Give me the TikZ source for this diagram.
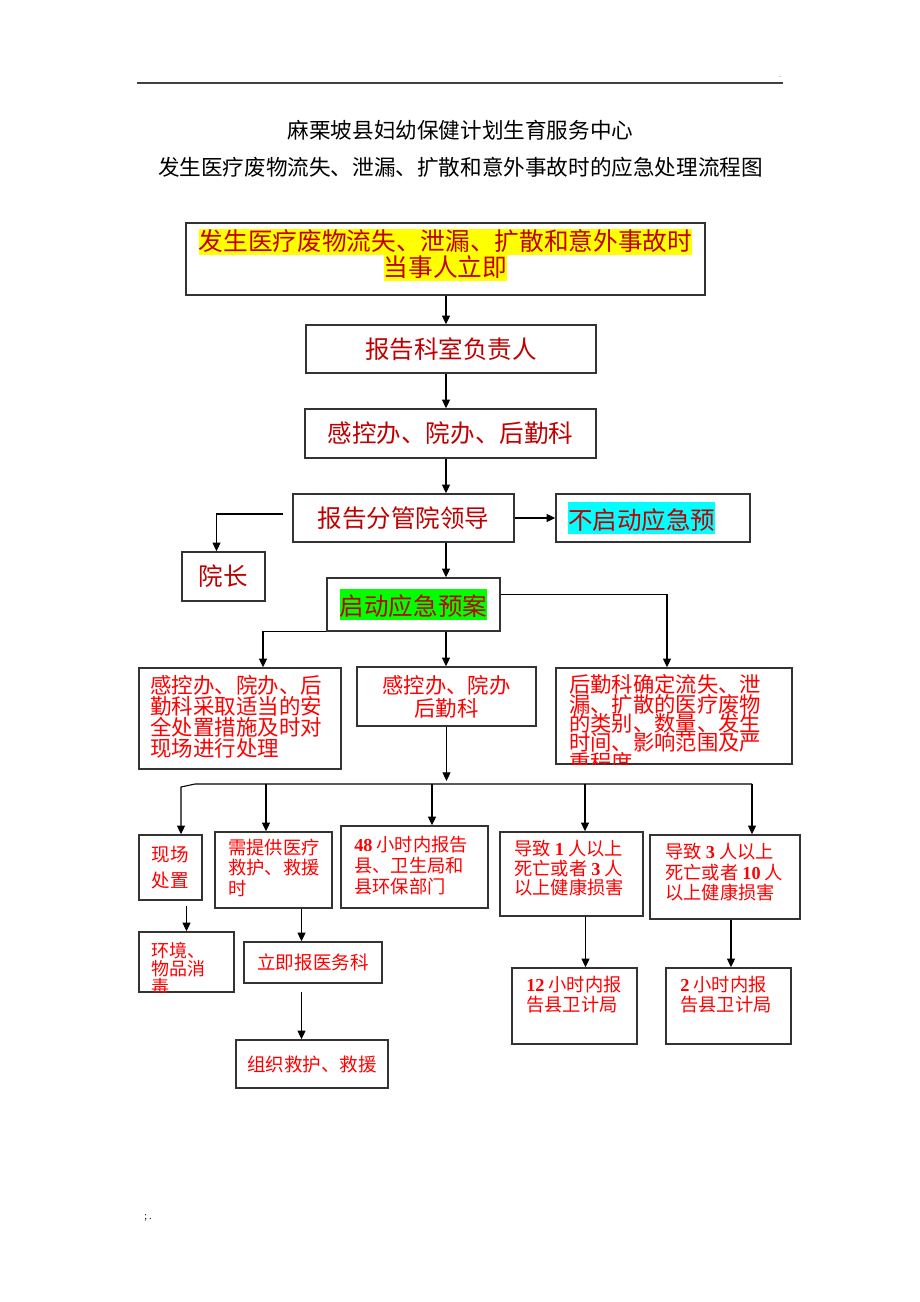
\documentclass[tikz,border=0pt]{standalone}
\usepackage{fontspec}
\setmainfont{Noto Sans CJK SC}
\newfontfamily\numfont{Liberation Serif}
\usepackage{xcolor}
\usetikzlibrary{fit, arrows.meta, positioning, calc}
\definecolor{darkred}{HTML}{C00000}
\definecolor{hlyellow}{RGB}{255,255,0}
\definecolor{hlcyan}{RGB}{0,255,255}
\definecolor{hlgreen}{RGB}{0,255,0}
\setlength{\fboxsep}{0pt}
\newcommand{\hlbg}[3][1.05em]{\colorbox{#2}{\rule[-0.2em]{0pt}{#1}#3}}
\newcommand{\bnum}[1]{{\numfont\bfseries #1}}
\newcommand{\cnsize}[2]{\fontsize{#1}{#2}\selectfont\lineskiplimit=-20pt}
\tikzset{
  box/.style={draw=black!80, line width=1.1pt, inner sep=0pt},
  boxsize/.style 2 args={minimum width=#1*0.75pt, minimum height=#2*0.75pt},
  lead/.style={box, text=darkred, font=\cnsize{18.4pt}{19.5pt}, align=center},
  act/.style={box, text=red, align=center},
  note/.style={anchor=north west, inner sep=0pt, align=left, text=red},
  arrow/.style={-{Triangle[length=6.5pt,width=6pt]}, line width=0.8pt, color=black},
  link/.style={line width=0.8pt, color=black}
}

\begin{document}
\begin{tikzpicture}[x=0.75pt, y=-0.75pt]
\useasboundingbox (0,0) rectangle (920,1302);
\fill[white] (0,0) rectangle (920,1302);

% En-tete
\draw[line width=1.2pt, black!75] (137,83) -- (783,83);
\node (dot_top) at (780,77) [font=\tiny] {.};
\node (org) at (460.5,130) [font=\cnsize{16.2pt}{20pt}] {麻栗坡县妇幼保健计划生育服务中心};
\node (title) at (460.5,167) [font=\cnsize{16.2pt}{20pt}] {发生医疗废物流失、泄漏、扩散和意外事故时的应急处理流程图};
\coordinate (axis) at (446,0);

% Chaine de signalement
\node (incident) [lead, boxsize={519}{72}, text depth=9.7pt, font=\cnsize{18.5pt}{19.5pt}] at (445.5,259) {\hlbg{hlyellow}{发生医疗废物流失、泄漏、扩散和意外事故时}\\\hlbg{hlyellow}{当事人立即}};
\node (report_dept) [lead, boxsize={290}{48}] at (451,349) {报告科室负责人};
\node (office) [lead, boxsize={291}{49}] at (450.5,433.5) {感控办、院办、后勤科};
\node (leader) [lead, boxsize={221}{48}] at (403.5,518) {报告分管院领导};
\node (no_plan) [box, fit={(556,494) (750,542)}] {};
\node (no_plan_txt) [note, anchor=west, text=darkred, font=\cnsize{18.4pt}{19.5pt}] at (568,518) {\hlbg[1.3em]{hlcyan}{不启动应急预}};
\node (dean) [lead, boxsize={83}{49}] at (223.5,576.5) {院长};
\node (plan) [lead, boxsize={173}{53}] at (413.5,604.5) {\hlbg[1.3em]{hlgreen}{启动应急预案}};

% Trois volets
\node (site_measures) [box, fit={(139,668) (341,769)}] {};
\node (site_measures_txt) [note, font=\cnsize{16.1pt}{15.75pt}] at (150,675) {感控办、院办、后\\勤科采取适当的安\\全处置措施及时对\\现场进行处理};
\node (dept_team) [act, boxsize={179}{59}, font=\cnsize{16pt}{17.25pt}] at (446.5,696.5) {感控办、院办\\后勤科};
\node (logistics) [box, fit={(556,668) (792,764)}] {};
\begin{scope}
  \clip (logistics.north west) rectangle (logistics.south east);
  \node (logistics_txt) [note, font=\cnsize{16pt}{14.5pt}] at (569,674.5) {后勤科确定流失、泄\\漏、扩散的医疗废物\\的类别、数量、发生\\时间、影响范围及严\\重程度};
\end{scope}

% Mesures
\node (onsite) [act, boxsize={63}{65}, font=\cnsize{13.9pt}{19.5pt}] at (170.5,867.5) {现场\\处置};
\node (rescue) [box, fit={(215,832) (332,908)}] {};
\node (rescue_txt) [note, font=\cnsize{13.7pt}{15.2pt}] at (228,839) {需提供医疗\\救护、救援\\时};
\node (report48) [box, fit={(341,826) (488,908)}] {};
\node (report48_txt) [note, font=\cnsize{13.7pt}{15.75pt}] at (354,836) {\bnum{48} 小时内报告\\县、卫生局和\\县环保部门};
\node (death1) [box, fit={(500,832) (643,916)}] {};
\node (death1_txt) [note, font=\cnsize{13.7pt}{14.7pt}] at (514,840) {导致 \bnum{1} 人以上\\死亡或者 \bnum{3} 人\\以上健康损害};
\node (death3) [box, fit={(650,835) (800,919)}] {};
\node (death3_txt) [note, font=\cnsize{13.7pt}{15.4pt}] at (665,843) {导致 \bnum{3} 人以上\\死亡或者 \bnum{10} 人\\以上健康损害};

% Suites
\node (disinfect) [box, fit={(139,932) (234,992)}] {};
\begin{scope}
  \clip (disinfect.north west) rectangle (disinfect.south east);
  \node (disinfect_txt) [note, font=\cnsize{13.5pt}{13.6pt}] at (151,942) {环境、\\物品消\\毒};
\end{scope}
\node (med_dept) [act, boxsize={138}{41}, font=\cnsize{13.9pt}{16pt}] at (313,962.5) {立即报医务科};
\node (organize) [act, boxsize={152}{48}, font=\cnsize{13.9pt}{16pt}] at (312,1064) {组织救护、救援};
\node (report12) [box, fit={(512,968) (637,1044)}] {};
\node (report12_txt) [note, font=\cnsize{13.7pt}{15pt}] at (526,976) {\bnum{12} 小时内报\\告县卫计局};
\node (report2) [box, fit={(666,968) (791,1044)}] {};
\node (report2_txt) [note, font=\cnsize{13.7pt}{15pt}] at (680,976) {\bnum{2} 小时内报\\告县卫计局};

\node (dot_foot) at (148,1218) [font=\scriptsize] {; .};

% Fleches de la chaine
\foreach \a/\b in {incident/report_dept, report_dept/office, office/leader, leader/plan, plan/dept_team}
  \draw [arrow] (\a.south -| axis) -- (\b.north -| axis);
\draw [arrow] ([shift={(-9,-4)}]leader.west) -| ([shift={(-7,0)}]dean.north);
\draw [arrow] (leader.east) -- (no_plan.west);
\draw [arrow] ([shift={(0,-10)}]plan.east) -| ([shift={(-7,0)}]logistics.north);
\draw [arrow] (plan.south west) -| ([shift={(23,0)}]site_measures.north);

% Barre de repartition
\coordinate (hub) at (446.5,781);
\coordinate (bus_left) at (195,784);
\coordinate (kink) at (181,787);
\foreach \n/\x in {rescue/266, report48/432, death1/585, death3/752}
  \coordinate (tap_\n) at (\x,784);
\draw [arrow] (dept_team.south) -- (hub);
\draw [arrow] (tap_death3) -- (bus_left) -- (kink) -- (kink |- onsite.north);
\foreach \n in {rescue, report48, death1, death3}
  \draw [arrow] (tap_\n) -- (tap_\n |- \n.north);

% Fleches des suites
\draw [arrow, shorten <=4pt] (disinfect.north |- onsite.south) -- (disinfect.north);
\coordinate (rescue_out) at ([shift={(28,0)}]rescue.south);
\draw [arrow] (rescue_out) -- (rescue_out |- med_dept.north);
\draw [arrow, shorten <=6pt] (rescue_out |- med_dept.south) -- (rescue_out |- organize.north);
\coordinate (death1_out) at ([shift={(14,0)}]death1.south);
\draw [arrow] (death1_out) -- (death1_out |- report12.north);
\coordinate (death3_out) at ([shift={(6,0)}]death3.south);
\draw [arrow] (death3_out) -- (death3_out |- report2.north);

\end{tikzpicture}
\end{document}
